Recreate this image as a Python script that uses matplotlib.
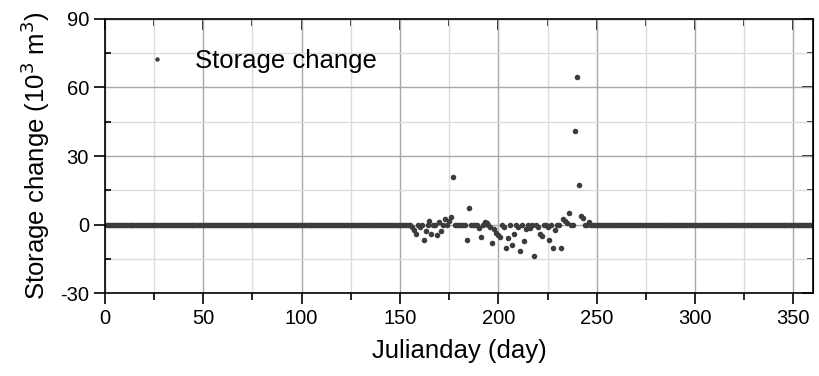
import matplotlib
matplotlib.use("Agg")
import matplotlib.pyplot as plt
from matplotlib.ticker import MultipleLocator
import numpy as np

plt.rcParams['font.family'] = ['Liberation Sans', 'DejaVu Sans']
plt.rcParams['axes.unicode_minus'] = False

# daily storage change (10^3 m3), zero outside the summer period
days = np.arange(1, 366)
nonzero_days = [156, 157, 158, 160, 162, 163, 165, 166, 169, 170, 171, 173, 175,
                176, 177, 184, 185, 190, 191, 193, 194, 196, 197, 198, 199, 200,
                201, 203, 204, 205, 207, 208, 210, 211, 213, 214, 216, 218, 220,
                221, 222, 225, 226, 228, 229, 232, 233, 234, 235, 236, 239, 240,
                241, 242, 243, 246]
nonzero_vals = [-1.2, -2.3, -4.0, -1.0, -7.0, -2.9, 1.4, -4.0, -4.4, 1.0, -2.9, 2.5, 1.5,
                3.2, 21.0, -7.0, 7.2, -1.5, -5.5, 1.2, 0.5, -1.0, -8.2, -2.0, -3.5, -4.5,
                -5.5, -1.0, -10.4, -6.0, -8.9, -4.0, -1.0, -11.8, -7.3, -2.0, -1.5, -14.0, -1.0,
                -4.0, -5.0, -1.0, -6.7, -10.2, -2.6, -10.4, 2.5, 1.4, 0.5, 5.1, 41.0, 64.5,
                17.2, 3.9, 3.0, 1.2]

storage = np.zeros(len(days))
for d, v in zip(nonzero_days, nonzero_vals):
    storage[d - 1] = v

fig = plt.figure(figsize=(8.2, 3.76), dpi=100)
ax = fig.add_axes([0.128, 0.2207, 0.8635, 0.7288])

ax.plot(days, storage, 'o', color='#3c3c3c', markersize=4.0, markeredgewidth=0,
        label='Storage change')

ax.set_xlim(0, 360)
ax.set_ylim(-30, 90)
ax.xaxis.set_major_locator(MultipleLocator(50))
ax.xaxis.set_minor_locator(MultipleLocator(25))
ax.yaxis.set_major_locator(MultipleLocator(30))
ax.yaxis.set_minor_locator(MultipleLocator(15))

ax.grid(which='major', color='#a8a8a8', linewidth=1.0)
ax.grid(which='minor', color='#dcdcdc', linewidth=1.0)
ax.set_axisbelow(True)

ax.tick_params(axis='x', which='major', direction='out', length=8, width=1.2, labelsize=14.5)
ax.tick_params(axis='x', which='minor', direction='out', length=5, width=1.2)
ax.tick_params(axis='y', which='major', direction='out', length=8, width=1.2, labelsize=14.5)
ax.tick_params(axis='y', which='minor', direction='in', length=4, width=1.2)
for s in ax.spines.values():
    s.set_linewidth(1.2)

top = ax.secondary_xaxis('top')
top.xaxis.set_major_locator(MultipleLocator(50))
top.xaxis.set_minor_locator(MultipleLocator(25))
top.tick_params(which='major', direction='in', length=8, width=1.2, labeltop=False)
top.tick_params(which='minor', direction='in', length=5, width=1.2)
right = ax.secondary_yaxis('right')
right.yaxis.set_major_locator(MultipleLocator(30))
right.yaxis.set_minor_locator(MultipleLocator(15))
right.tick_params(which='major', direction='in', length=8, width=1.2, labelright=False)
right.tick_params(which='minor', direction='in', length=4, width=1.2)

ax.set_xlabel('Julianday (day)', fontsize=18.5, labelpad=8)
ax.set_ylabel(r'Storage change (10$^3$ m$^3$)', fontsize=18.5, labelpad=6)

ax.legend(loc='upper left', bbox_to_anchor=(0.022, 0.975), frameon=False,
          fontsize=18.5, markerscale=0.8, handlelength=1.0, handletextpad=1.0)

fig.savefig('out.png', dpi=100)
